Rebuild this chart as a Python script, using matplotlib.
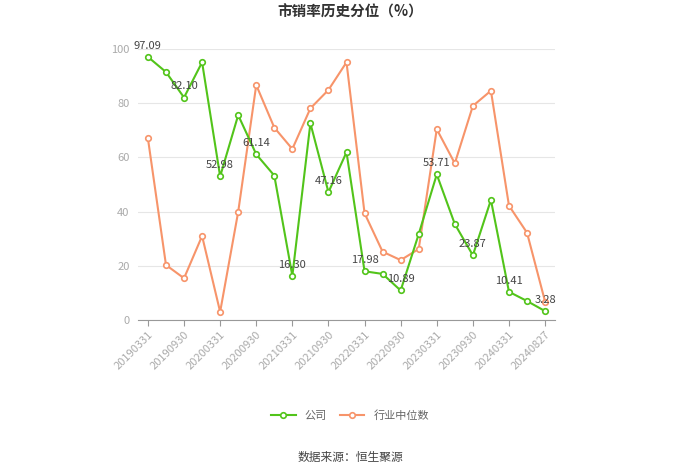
import matplotlib
matplotlib.use("Agg")
import matplotlib.pyplot as plt

plt.rcParams['font.family'] = ['Noto Sans CJK SC', 'DejaVu Sans']

dates = ["20190331", "20190630", "20190930", "20191231", "20200331", "20200630",
         "20200930", "20201231", "20210331", "20210630", "20210930", "20211231",
         "20220331", "20220630", "20220930", "20221231", "20230331", "20230630",
         "20230930", "20231231", "20240331", "20240630", "20240827"]
company = [97.09, 91.5, 82.10, 95.1, 52.98, 75.6, 61.14, 53.3, 16.30, 72.6, 47.16, 61.9,
           17.98, 17.0, 10.89, 31.7, 53.71, 35.4, 23.87, 44.3, 10.41, 7.0, 3.28]
industry = [67.0, 20.3, 15.4, 31.0, 3.0, 39.9, 86.7, 71.0, 63.1, 78.1, 84.9, 95.1,
            39.4, 25.2, 22.1, 26.2, 70.4, 57.8, 79.0, 84.6, 42.2, 32.2, 6.8]
label_idx = [0, 2, 4, 6, 8, 10, 12, 14, 16, 18, 20, 22]

green = "#52c41a"
orange = "#f7946a"

fig = plt.figure(figsize=(7, 4.74), dpi=100)
ax = fig.add_axes([138/700, 1-320/474, (555-138)/700, (320-49)/474])

x = list(range(len(dates)))
ax.plot(x, industry, color=orange, lw=1.5, marker='o', ms=4, mfc='white',
        mec=orange, mew=1.2, label='行业中位数', zorder=3)
ax.plot(x, company, color=green, lw=1.5, marker='o', ms=4, mfc='white',
        mec=green, mew=1.2, label='公司', zorder=4)

for i in label_idx:
    ax.annotate(f"{company[i]:.2f}", (i, company[i]), xytext=(0, 4.5),
                textcoords='offset points', ha='center', va='bottom',
                fontsize=8, color='#444444', zorder=5)

ax.set_xlim(-0.55, len(dates) - 1 + 0.55)
ax.set_ylim(0, 100)
ax.set_yticks([0, 20, 40, 60, 80, 100])
ax.yaxis.grid(True, color='#e6e6e6', lw=0.8)
ax.set_axisbelow(True)
for s in ['top', 'right', 'left']:
    ax.spines[s].set_visible(False)
ax.spines['bottom'].set_color('#999999')
ax.tick_params(axis='y', length=0, labelsize=8, labelcolor='#aaaaaa', pad=6)
ax.set_xticks(label_idx)
ax.set_xticklabels([dates[i] for i in label_idx], rotation=45, ha='right',
                   rotation_mode='anchor', fontsize=8, color='#aaaaaa')
ax.tick_params(axis='x', length=4, color='#999999', pad=3)

fig.text(0.5, 1-12/474, "市销率历史分位（%）", ha='center', va='center',
         fontsize=10.5, fontweight='bold', color='#333333')

handles, labels = ax.get_legend_handles_labels()
fig.legend(handles[::-1], labels[::-1], loc='center', bbox_to_anchor=(0.5, 1-416/474),
           ncol=2, frameon=False, fontsize=8, handlelength=2.2, columnspacing=1.2,
           labelcolor='#666666')

fig.text(0.5, 1-457/474, "数据来源：恒生聚源", ha='center', va='center',
         fontsize=8.5, color='#444444')

fig.savefig("out.png", dpi=100)
